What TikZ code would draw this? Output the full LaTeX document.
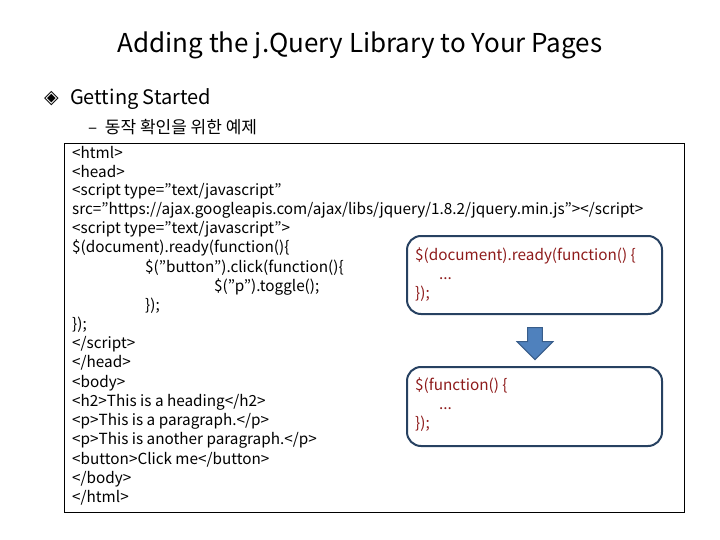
\documentclass[tikz,border=0pt]{standalone}
\usepackage{fontspec}
\defaultfontfeatures{}
\setmainfont{Noto Sans CJK KR}
\newfontfamily\djv{DejaVu Sans}
\usetikzlibrary{shapes.arrows}
\definecolor{codered}{HTML}{8E1B1B}
\definecolor{arrowblue}{HTML}{4F81BD}
\definecolor{arrowedge}{HTML}{385D8A}
\newcommand{\q}{\symbol{34}}
\tikzset{code/.style={anchor=west,inner sep=0,font=\fontsize{15.3}{16}\selectfont},
rbox/.style={draw=arrowedge!70!black,line width=2pt,rounded corners=14pt},
rtext/.style={anchor=north west,inner sep=0,align=left,text=codered,font=\fontsize{15.3}{19}\selectfont}}
\begin{document}
\begin{tikzpicture}[x=1pt,y=-1pt]
\useasboundingbox (0,0) rectangle (720,540);
\node[font=\fontsize{26}{28}\selectfont] (title) at (360,45) {Adding the j.Query Library to Your Pages};
\node[anchor=west,inner sep=0,font=\djv\fontsize{19}{20}\selectfont] (bul) at (44,99) {◈};
\node[anchor=west,inner sep=0,font=\fontsize{20}{22}\selectfont] (gs) at (70,99) {Getting Started};
\node[anchor=west,inner sep=0,font=\fontsize{17}{18}\selectfont] (ko) at (88,127) {–\ \ 동작 확인을 위한 예제};
\draw[line width=0.8pt] (64,143) rectangle (684,512);
\foreach \t/\x/\y in {{<html>}/72/153,{<head>}/72/172,{<script type=\q text/javascript\q}/72/191,
{src=\q https://ajax.googleapis.com/ajax/libs/jquery/1.8.2/jquery.min.js\q></script>}/72/210,
{<script type=\q text/javascript\q>}/72/229,{\$(document).ready(function()\{}/72/248,
{\$(\q button\q).click(function()\{}/145/268,{\$(\q p\q).toggle();}/214/287,{\});}/145/306,
{\});}/72/325,{</script>}/72/344,{</head>}/72/363,{<body>}/72/383,{<h2>This is a heading</h2>}/72/402,
{<p>This is a paragraph.</p>}/72/421,{<p>This is another paragraph.</p>}/72/440,
{<button>Click me</button>}/72/460,{</body>}/72/479,{</html>}/72/498}
 \node[code] at (\x,\y) {\t};
\draw[rbox] (407,236) rectangle (662,314);
\node[rtext] (t1) at (415,248) {\$(document).ready(function() \{\\\hspace*{24pt}...\\\});};
\draw[rbox] (407,367) rectangle (662,446);
\node[rtext] (t2) at (415,378) {\$(function() \{\\\hspace*{24pt}...\\\});};
\node[single arrow,shape border rotate=270,draw=arrowedge,fill=arrowblue,line width=1pt,
 minimum height=32pt,minimum width=36pt,single arrow head extend=8pt,inner sep=5pt] (arr) at (535,340) {};
\end{tikzpicture}
\end{document}
